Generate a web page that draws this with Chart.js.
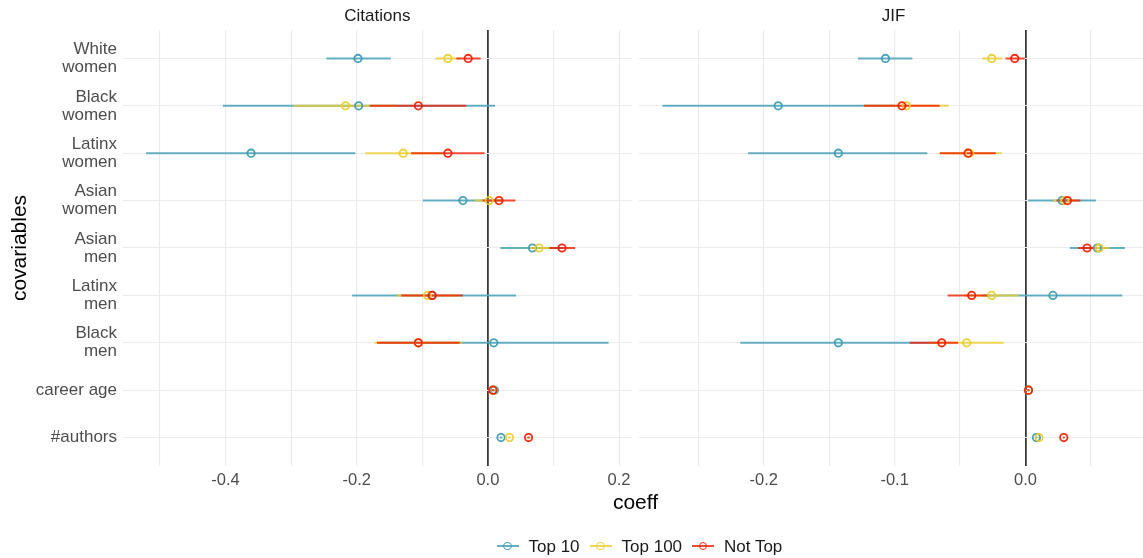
<!DOCTYPE html>
<html><head><meta charset="utf-8">
<script src="https://cdn.jsdelivr.net/npm/chart.js@4/dist/chart.umd.min.js"></script>
<style>
html,body{margin:0;padding:0;background:#fff;overflow:hidden;}
#wrap{position:relative;width:1143px;height:558px;overflow:hidden;font-family:"Liberation Sans",Arial,sans-serif;}
canvas{position:absolute;top:0;}
#c1{left:0;}
#c2{left:632px;}
#xtitle{position:absolute;left:535.5px;width:200px;top:490.5px;text-align:center;font-size:21px;line-height:21px;color:#000;}
#legend{position:absolute;left:496.5px;top:537.6px;height:17px;display:flex;align-items:center;font-size:17px;line-height:17px;color:#1a1a1a;white-space:nowrap;}
.item{display:flex;align-items:center;margin-right:10px;}
.icon{position:relative;width:22px;height:17px;margin-right:10px;}
.icon .ln{position:absolute;left:0;width:22px;top:7.5px;height:2px;}
.icon .pt{position:absolute;left:6.8px;top:4.3px;width:8.4px;height:8.4px;box-sizing:border-box;border-radius:50%;border:1.8px solid;}
</style>
</head><body>
<div id="wrap">
<canvas id="c1" width="640" height="500"></canvas>
<canvas id="c2" width="540" height="500"></canvas>
<div id="xtitle">coeff</div>
<div id="legend"></div>
</div>
<script>
// ---- data ----
const covariables = ['White women','Black women','Latinx women','Asian women','Asian men','Latinx men','Black men','career age','#authors'];
const covariableLines = [['White','women'],['Black','women'],['Latinx','women'],['Asian','women'],['Asian','men'],['Latinx','men'],['Black','men'],'career age','#authors'];
const groups = ['Top 10','Top 100','Not Top'];
const panels = ['Citations','JIF'];

// Citations
const citTop10Est  = [-0.198,-0.197,-0.361,-0.038, 0.068,-0.085, 0.009, 0.010, 0.020];
const citTop10Lo   = [-0.246,-0.404,-0.521,-0.099, 0.019,-0.207,-0.166, 0.008, 0.018];
const citTop10Hi   = [-0.148, 0.011,-0.202, 0.023, 0.116, 0.043, 0.184, 0.012, 0.022];
const citTop100Est = [-0.061,-0.217,-0.129, 0.002, 0.078,-0.092,-0.106, 0.008, 0.033];
const citTop100Lo  = [-0.080,-0.296,-0.187,-0.020, 0.062,-0.139,-0.173, 0.006, 0.031];
const citTop100Hi  = [-0.042,-0.138,-0.070, 0.023, 0.094,-0.046,-0.039, 0.010, 0.035];
const citNotTopEst = [-0.030,-0.106,-0.061, 0.017, 0.113,-0.085,-0.106, 0.0076,0.062];
const citNotTopLo  = [-0.048,-0.180,-0.117,-0.008, 0.094,-0.132,-0.169, 0.006, 0.060];
const citNotTopHi  = [-0.011,-0.033,-0.005, 0.042, 0.133,-0.038,-0.043, 0.009, 0.064];

// JIF
const jifTop10Est  = [-0.107,-0.189,-0.143, 0.028, 0.055, 0.021,-0.143, 0.0023,0.0084];
const jifTop10Lo   = [-0.128,-0.2775,-0.212,0.002, 0.034,-0.033,-0.218, 0.0015,0.0076];
const jifTop10Hi   = [-0.0865,-0.100,-0.075,0.054, 0.076, 0.074,-0.068, 0.0031,0.0092];
const jifTop100Est = [-0.0258,-0.091,-0.0426,0.030,0.0563,-0.0258,-0.0449,0.0023,0.0104];
const jifTop100Lo  = [-0.0332,-0.123,-0.0663,0.021,0.048,-0.0466,-0.073, 0.0015,0.0096];
const jifTop100Hi  = [-0.0176,-0.0587,-0.0181,0.039,0.0645,-0.005,-0.0166,0.0031,0.0112];
const jifNotTopEst = [-0.0082,-0.0944,-0.0439,0.0321,0.0471,-0.0411,-0.064,0.0023,0.0293];
const jifNotTopLo  = [-0.0153,-0.1235,-0.0653,0.0237,0.0403,-0.0595,-0.0885,0.0015,0.0285];
const jifNotTopHi  = [-0.0005,-0.0656,-0.0227,0.042,0.054,-0.028,-0.0515,0.0031,0.0301];

const groupColors = ['59,154,178','235,204,42','242,26,0'];

// ---- helpers ----
Chart.defaults.font.family = '"Liberation Sans", Arial, sans-serif';

function ciData(lo, hi){
  const d = [];
  lo.forEach((v,i)=>{ d.push({x:v,y:i}); d.push({x:hi[i],y:i}); d.push({x:null,y:null}); });
  return d;
}
function ptData(est){ return est.map((v,i)=>({x:v,y:i})); }

function buildDatasets(est, lo, hi){
  const ds = [];
  groups.forEach((g,k)=>{
    ds.push({label:g+' CI', data:ciData(lo[k],hi[k]), showLine:true, borderColor:'rgba('+groupColors[k]+',0.78)',
      borderWidth:2, pointRadius:0, spanGaps:false, borderCapStyle:'butt', order:6-k});
  });
  groups.forEach((g,k)=>{
    ds.push({label:g, data:ptData(est[k]), showLine:false, pointRadius:3.7, pointBorderWidth:1.8,
      pointBorderColor:'rgba('+groupColors[k]+',0.92)', pointBackgroundColor:'rgba(0,0,0,0)', order:3-k});
  });
  return ds;
}

const stripPlugin = {
  id:'strip',
  afterDraw(chart, args, opts){
    const ca = chart.chartArea, ctx = chart.ctx;
    ctx.save();
    ctx.font = '17px "Liberation Sans", Arial, sans-serif';
    ctx.fillStyle = '#1a1a1a';
    ctx.textAlign = 'center';
    ctx.textBaseline = 'middle';
    ctx.fillText(opts.text, (ca.left+ca.right)/2, 16);
    ctx.restore();
  }
};

function limits(lo, hi){
  const mn = Math.min(...lo.flat()), mx = Math.max(...hi.flat());
  const e = (mx-mn)*0.05;
  return [mn-e, mx+e];
}

function makeChart(id, canvasLeft, wantL, wantR, panel, est, lo, hi, step, showY, padRight){
  const [mn,mx] = limits(lo,hi);
  const geo = {yWidth: wantL - canvasLeft};
  const isZero = c => c.tick && Math.abs(c.tick.value) < 1e-9;
  const cfg = {
    type:'scatter',
    data:{datasets:buildDatasets(est,lo,hi)},
    plugins:[stripPlugin],
    options:{
      responsive:false, animation:false, events:[],
      layout:{padding:{top:30,right:padRight,left:0,bottom:0}},
      plugins:{legend:{display:false}, tooltip:{enabled:false}, title:{display:false}, strip:{text:panel}},
      scales:{
        x:{type:'linear', min:mn, max:mx,
          border:{display:false},
          grid:{color:c=>isZero(c)?'#3a3a3a':'#ebebeb', lineWidth:c=>isZero(c)?1.8:1.1, drawTicks:false},
          ticks:{stepSize:step, includeBounds:false, autoSkip:false, maxRotation:0, padding:5,
            color:'#4d4d4d', font:{size:16.5},
            callback:(v)=>{ const k=Math.round(v/step); if(Math.abs(v/step-k)>1e-6) return ''; return (k%2===0)?(k*step).toFixed(1):''; }},
          afterFit:s=>{s.height=34;}
        },
        y:{type:'linear', reverse:true, min:-0.6, max:covariables.length-0.4,
          border:{display:false},
          grid:{color:'#ebebeb', lineWidth:1.1, drawTicks:false},
          title:{display:showY, text:'covariables', color:'#000', font:{size:21}, padding:{top:8,bottom:0}},
          ticks:{display:showY, stepSize:1, includeBounds:false, autoSkip:false, padding:6,
            color:'#4d4d4d', font:{size:17, lineHeight:1.06},
            callback:(v)=>covariableLines[Math.round(v)]},
          afterFit:s=>{s.width=geo.yWidth;}
        }
      }
    }
  };
  const chart = new Chart(document.getElementById(id), cfg);
  // align the plotting area to the target panel edges
  for (let i=0;i<4;i++){
    const ca = chart.chartArea;
    const dl = wantL - (canvasLeft + ca.left);
    const dr = wantR - (canvasLeft + ca.right);
    if (Math.abs(dl) < 0.05 && Math.abs(dr) < 0.05) break;
    geo.yWidth += dl;
    cfg.options.layout.padding.right = Math.max(0, cfg.options.layout.padding.right - dr);
    chart.update('none');
  }
  return chart;
}

makeChart('c1', 0, 123, 631.7, panels[0],
  [citTop10Est,citTop100Est,citNotTopEst],
  [citTop10Lo,citTop100Lo,citNotTopLo],
  [citTop10Hi,citTop100Hi,citNotTopHi], 0.1, true, 8.3);
makeChart('c2', 632, 639.3, 1148, panels[1],
  [jifTop10Est,jifTop100Est,jifNotTopEst],
  [jifTop10Lo,jifTop100Lo,jifNotTopLo],
  [jifTop10Hi,jifTop100Hi,jifNotTopHi], 0.05, false, 24);

// legend
const lg = document.getElementById('legend');
groups.forEach((g,k)=>{
  const it = document.createElement('div'); it.className='item';
  const ic = document.createElement('div'); ic.className='icon';
  const ln = document.createElement('div'); ln.className='ln'; ln.style.background='rgba('+groupColors[k]+',0.78)';
  const pt = document.createElement('div'); pt.className='pt'; pt.style.borderColor='rgba('+groupColors[k]+',0.92)';
  ic.appendChild(ln); ic.appendChild(pt);
  const tx = document.createElement('span'); tx.textContent=g;
  it.appendChild(ic); it.appendChild(tx); lg.appendChild(it);
});
</script>
</body></html>
